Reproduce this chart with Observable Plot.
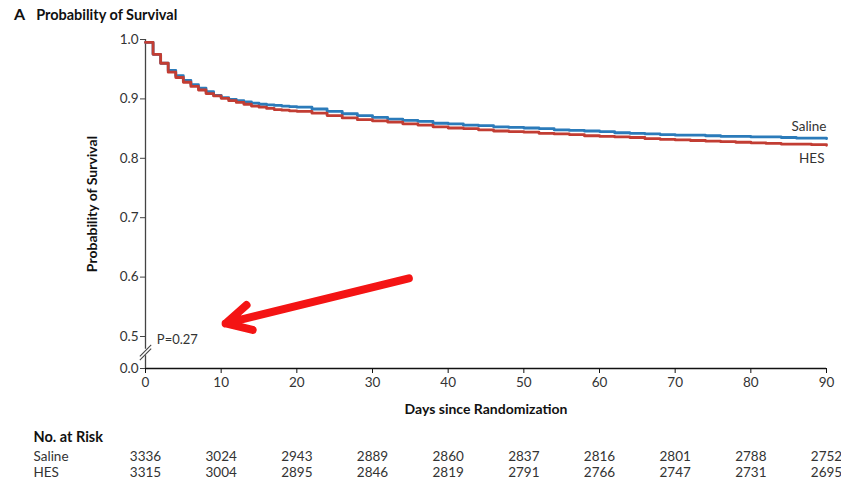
<!DOCTYPE html>
<html>
<head>
<meta charset="utf-8">
<script src="https://cdn.jsdelivr.net/npm/d3@7"></script>
<script src="https://cdn.jsdelivr.net/npm/@observablehq/plot@0.6"></script>
<style>
  html, body { margin: 0; padding: 0; background: #fff; }
  #wrap { position: relative; width: 841px; height: 482px; font-family: Lato, "Open Sans", sans-serif; }
  #title { position: absolute; left: 14px; top: 4px; font-size: 14.5px; font-weight: bold; color: #111; white-space: nowrap; }
  #title .panel { font-size: 16px; font-weight: bold; margin-right: 11px; }
  #chart svg { display: block; }
</style>
</head>
<body>
<div id="wrap">
  <div id="chart"></div>
  <div id="title"><span class="panel">A</span>Probability of Survival</div>
</div>
<script>
// ---- data ----
const days = [0,1,2,3,4,5,6,7,8,9,10,11,12,13,14,15,16,17,18,19,20,
  22,24,26,28,30,32,34,36,38,40,42,44,46,48,50,52,54,56,58,60,
  62,64,66,68,70,72,74,76,78,80,82,84,86,88,90];
const saline = [0.995,0.975,0.960,0.948,0.939,0.931,0.924,0.918,0.912,0.906,0.902,
  0.899,0.897,0.895,0.893,0.891,0.890,0.889,0.888,0.887,0.886,
  0.883,0.879,0.875,0.872,0.869,0.866,0.864,0.862,0.859,0.858,
  0.856,0.855,0.853,0.852,0.851,0.850,0.848,0.847,0.846,0.845,
  0.843,0.842,0.841,0.840,0.839,0.839,0.838,0.837,0.837,0.836,
  0.836,0.835,0.834,0.834,0.833];
const hes = [0.995,0.975,0.960,0.945,0.936,0.928,0.921,0.915,0.909,0.905,0.901,
  0.897,0.894,0.891,0.888,0.886,0.884,0.882,0.881,0.880,0.879,
  0.876,0.872,0.868,0.865,0.863,0.861,0.858,0.856,0.853,0.851,
  0.850,0.848,0.846,0.845,0.844,0.842,0.841,0.840,0.838,0.837,
  0.836,0.835,0.833,0.832,0.831,0.830,0.829,0.828,0.827,0.826,
  0.825,0.824,0.824,0.823,0.822];
const groups = ["Saline", "HES"];
const groupColors = ["#2b7bba", "#c23d33"];
const xTicks = [0,10,20,30,40,50,60,70,80,90];
const yTicks = [0.0,0.5,0.6,0.7,0.8,0.9,1.0];
const riskDays = [0,10,20,30,40,50,60,70,80,90];
const salineRisk = [3336,3024,2943,2889,2860,2837,2816,2801,2788,2752];
const hesRisk = [3315,3004,2895,2846,2819,2791,2766,2747,2731,2695];
const pValue = "P=0.27";
// annotation arrow (data units): from (day, survival) to (day, survival)
const arrowFrom = [34.8, 0.598];
const arrowTo = [10.6, 0.522];
// axis break on the y axis (data units)
const breakLow = 0.2, breakHigh = 0.3;

// ---- broken y axis: 0–0.5 compressed, 0.5–1.0 expanded ----
// u(v) maps survival to a linear "display" unit that Plot's linear y scale then positions.
const lowSpan = 32, highSpan = 297; // relative lengths of the two segments
const u = v => v <= 0.5 ? v / 0.5 * lowSpan : lowSpan + (v - 0.5) / 0.5 * highSpan;
const uInv = t => t <= lowSpan ? t / lowSpan * 0.5 : 0.5 + (t - lowSpan) / highSpan * 0.5;

// ---- build tables ----
const curves = [];
days.forEach((d, i) => {
  curves.push({day: d, surv: saline[i], group: "Saline"});
  curves.push({day: d, surv: hes[i], group: "HES"});
});
const lastDay = days[days.length - 1];
const labelSaline = [{day: lastDay, surv: saline[saline.length - 1], group: "Saline"}];
const labelHes = [{day: lastDay, surv: hes[hes.length - 1], group: "HES"}];
const riskSaline = riskDays.map((d, i) => ({day: d, n: String(salineRisk[i])}));
const riskHes = riskDays.map((d, i) => ({day: d, n: String(hesRisk[i])}));
const slashes = [breakLow + 0.02, breakHigh - 0.02].map(c => ({x1: -0.75, x2: 0.75, y1: c - 0.09, y2: c + 0.09}));

const font = "Lato, 'Open Sans', sans-serif";
const textColor = "#333";

const plot = Plot.plot({
  width: 841,
  height: 482,
  marginLeft: 145,
  marginRight: 15,
  marginTop: 39,
  marginBottom: 114,
  style: {fontFamily: font, fontSize: "13px", color: textColor, background: "#fff"},
  x: {domain: [0, 90]},
  y: {domain: [0, u(1.0)]},
  color: {domain: groups, range: groupColors},
  marks: [
    // axis lines
    Plot.ruleY([0], {x1: 0, x2: 90, stroke: "#111", strokeWidth: 1.3}),
    Plot.ruleX([0], {y1: u(0), y2: u(breakLow), stroke: "#444", strokeWidth: 1.3}),
    Plot.ruleX([0], {y1: u(breakHigh), y2: u(1.0), stroke: "#444", strokeWidth: 1.3}),
    Plot.link(slashes, {x1: "x1", y1: d => u(d.y1), x2: "x2", y2: d => u(d.y2), stroke: "#444", strokeWidth: 1.1}),
    Plot.axisX({ticks: xTicks, tickSize: 5, tickPadding: 4, label: null, fontSize: 13.5, stroke: "#111"}),
    Plot.axisY({ticks: yTicks.map(u), tickSize: 5, tickPadding: 2, tickFormat: t => d3.format(".1f")(uInv(t)), label: null, fontSize: 13.5, stroke: "#444"}),
    // survival curves
    Plot.line(curves, {x: "day", y: d => u(d.surv), z: "group", stroke: "group", curve: "step-after", strokeWidth: 2.8}),
    // end labels
    Plot.text(labelSaline, {x: "day", y: d => u(d.surv), text: "group", dy: -12, textAnchor: "end", fontSize: 13.5, fill: textColor}),
    Plot.text(labelHes, {x: "day", y: d => u(d.surv), text: "group", dy: 13, dx: -2, textAnchor: "end", fontSize: 13.5, fill: textColor}),
    // P value
    Plot.text([pValue], {x: 1.5, y: u(0.5), text: d => d, textAnchor: "start", dy: 3, fontSize: 13, fill: textColor}),
    // red annotation arrow
    Plot.arrow([{x1: arrowFrom[0], y1: u(arrowFrom[1]), x2: arrowTo[0], y2: u(arrowTo[1])}], {
      x1: "x1", y1: "y1", x2: "x2", y2: "y2", stroke: "#f41414", strokeWidth: 8,
      headLength: 5.2, headAngle: 55, strokeLinecap: "round", strokeLinejoin: "round"
    }),
    // axis titles
    Plot.text(["Probability of Survival"], {frameAnchor: "left", dx: -53, rotate: -90, text: d => d, textAnchor: "middle", lineAnchor: "middle", fontWeight: "bold", fontSize: 14, fill: "#111"}),
    Plot.text(["Days since Randomization"], {frameAnchor: "bottom", dy: 41, text: d => d, textAnchor: "middle", lineAnchor: "middle", fontWeight: "bold", fontSize: 14, fill: "#111"}),
    // risk table
    Plot.text(["No. at Risk"], {frameAnchor: "bottom-left", dx: -112, dy: 69, text: d => d, textAnchor: "start", lineAnchor: "middle", fontWeight: "bold", fontSize: 14.5, fill: "#111"}),
    Plot.text([groups[0]], {frameAnchor: "bottom-left", dx: -112, dy: 88, text: d => d, textAnchor: "start", lineAnchor: "middle", fontSize: 13.5, fill: textColor}),
    Plot.text([groups[1]], {frameAnchor: "bottom-left", dx: -112, dy: 104, text: d => d, textAnchor: "start", lineAnchor: "middle", fontSize: 13.5, fill: textColor}),
    Plot.text(riskSaline, {x: "day", text: "n", frameAnchor: "bottom", dy: 88, textAnchor: "middle", lineAnchor: "middle", fontSize: 13.5, fill: textColor}),
    Plot.text(riskHes, {x: "day", text: "n", frameAnchor: "bottom", dy: 104, textAnchor: "middle", lineAnchor: "middle", fontSize: 13.5, fill: textColor})
  ]
});
document.getElementById("chart").appendChild(plot);
</script>
</body>
</html>
